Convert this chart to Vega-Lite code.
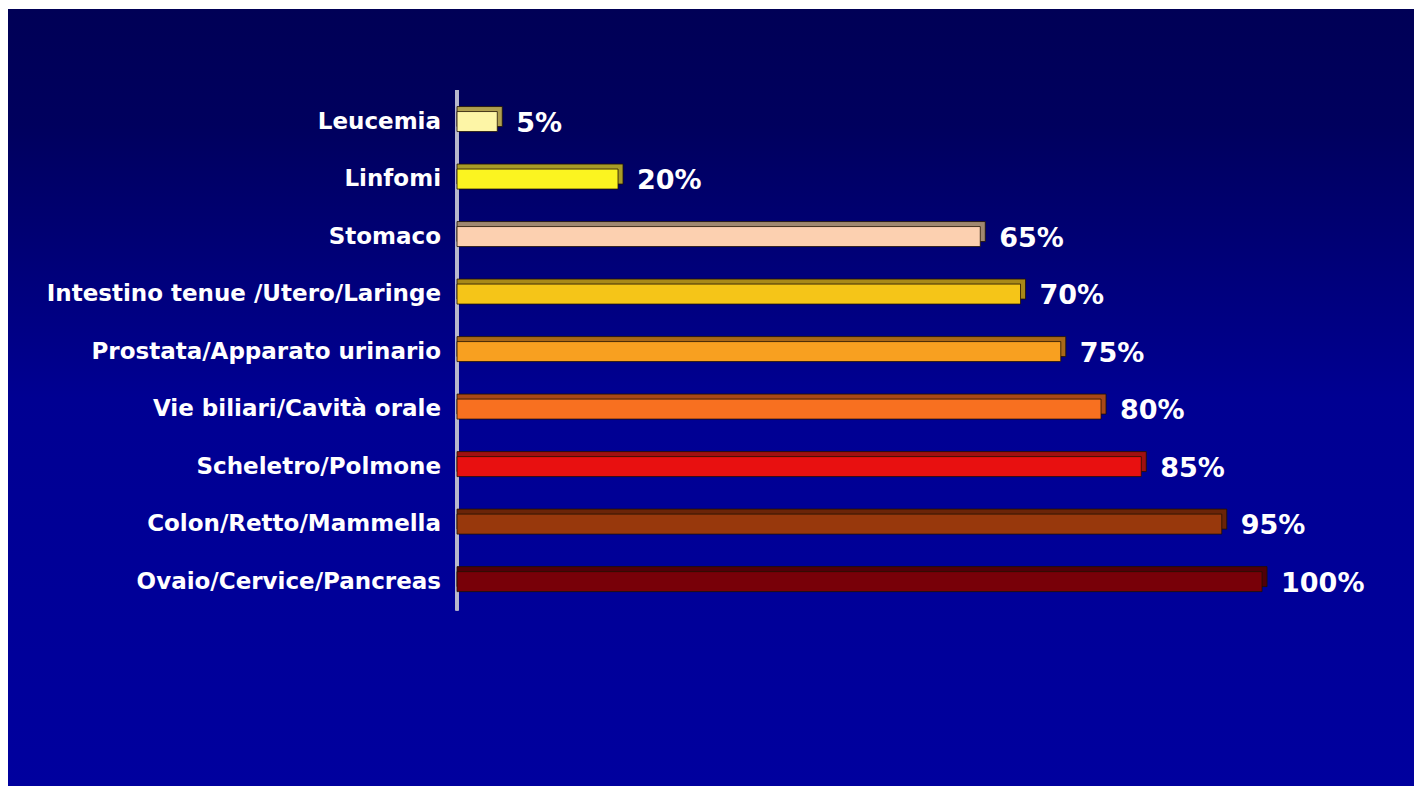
{
  "$schema": "https://vega.github.io/schema/vega-lite/v6.json",
  "width": 1414,
  "height": 796,
  "autosize": {"type": "fit", "contains": "padding"},
  "padding": {"left": 8, "top": 9, "right": 0, "bottom": 10},
  "background": "#ffffff",
  "config": {
    "view": {
      "stroke": null,
      "fill": {
        "gradient": "linear",
        "x1": 0, "y1": 0, "x2": 0, "y2": 1,
        "stops": [
          {"offset": 0, "color": "#000056"},
          {"offset": 0.15, "color": "#00005e"},
          {"offset": 0.5, "color": "#000092"},
          {"offset": 1, "color": "#00009e"}
        ]
      }
    }
  },
  "data": {
    "values": [
      {"label": "Leucemia", "pos": 1, "value": 5, "pct": "5%"},
      {"label": "Linfomi", "pos": 2, "value": 20, "pct": "20%"},
      {"label": "Stomaco", "pos": 3, "value": 65, "pct": "65%"},
      {"label": "Intestino tenue /Utero/Laringe", "pos": 4, "value": 70, "pct": "70%"},
      {"label": "Prostata/Apparato urinario", "pos": 5, "value": 75, "pct": "75%"},
      {"label": "Vie biliari/Cavità orale", "pos": 6, "value": 80, "pct": "80%"},
      {"label": "Scheletro/Polmone", "pos": 7, "value": 85, "pct": "85%"},
      {"label": "Colon/Retto/Mammella", "pos": 8, "value": 95, "pct": "95%"},
      {"label": "Ovaio/Cervice/Pancreas", "pos": 9, "value": 100, "pct": "100%"}
    ]
  },
  "encoding": {
    "y": {
      "field": "pos",
      "type": "quantitative",
      "scale": {"domain": [-0.87, 12.467], "reverse": true, "nice": false, "zero": false},
      "axis": null
    }
  },
  "layer": [
    {
      "mark": {"type": "rule", "color": "#b8b8cc", "strokeWidth": 3},
      "encoding": {
        "x": {"datum": 0, "type": "quantitative", "scale": {"domain": [-55.78, 118.88], "nice": false, "zero": false}, "axis": null},
        "y": {"datum": 0.45, "type": "quantitative"},
        "y2": {"datum": 9.5}
      }
    },
    {
      "mark": {"type": "bar", "height": 20, "xOffset": 5, "yOffset": -5, "stroke": "#201000", "strokeWidth": 0.8},
      "encoding": {
        "x": {"field": "value", "type": "quantitative", "scale": {"domain": [-55.78, 118.88], "nice": false, "zero": false}, "axis": null},
        "x2": {"datum": 0},
        "color": {
          "field": "label", "type": "nominal", "legend": null,
          "scale": {
            "domain": ["Leucemia", "Linfomi", "Stomaco", "Intestino tenue /Utero/Laringe", "Prostata/Apparato urinario", "Vie biliari/Cavità orale", "Scheletro/Polmone", "Colon/Retto/Mammella", "Ovaio/Cervice/Pancreas"],
            "range": ["#b0a050", "#a89c28", "#a08870", "#a88818", "#a86818", "#a84818", "#a01010", "#6a2408", "#500008"]
          }
        }
      }
    },
    {
      "mark": {"type": "bar", "height": 20, "stroke": "#201000", "strokeWidth": 0.8},
      "encoding": {
        "x": {"field": "value", "type": "quantitative", "scale": {"domain": [-55.78, 118.88], "nice": false, "zero": false}, "axis": null},
        "x2": {"datum": 0},
        "fill": {
          "field": "label", "type": "nominal", "legend": null,
          "scale": {
            "domain": ["Leucemia", "Linfomi", "Stomaco", "Intestino tenue /Utero/Laringe", "Prostata/Apparato urinario", "Vie biliari/Cavità orale", "Scheletro/Polmone", "Colon/Retto/Mammella", "Ovaio/Cervice/Pancreas"],
            "range": ["#fdf5a6", "#fbf420", "#fcd0b0", "#f5c518", "#f8a020", "#f87020", "#e81010", "#98380c", "#780008"]
          }
        }
      }
    },
    {
      "mark": {"type": "text", "align": "left", "baseline": "middle", "dx": 19, "dy": 2, "font": "DejaVu Sans", "fontWeight": "bold", "fontSize": 27, "color": "#ffffff"},
      "encoding": {
        "x": {"field": "value", "type": "quantitative", "scale": {"domain": [-55.78, 118.88], "nice": false, "zero": false}, "axis": null},
        "text": {"field": "pct"}
      }
    },
    {
      "mark": {"type": "text", "align": "right", "baseline": "middle", "dx": -16, "font": "DejaVu Sans", "fontWeight": "bold", "fontSize": 23, "color": "#ffffff"},
      "encoding": {
        "x": {"datum": 0, "type": "quantitative", "scale": {"domain": [-55.78, 118.88], "nice": false, "zero": false}, "axis": null},
        "text": {"field": "label"}
      }
    }
  ],
  "resolve": {"scale": {"color": "independent", "fill": "independent"}}
}
